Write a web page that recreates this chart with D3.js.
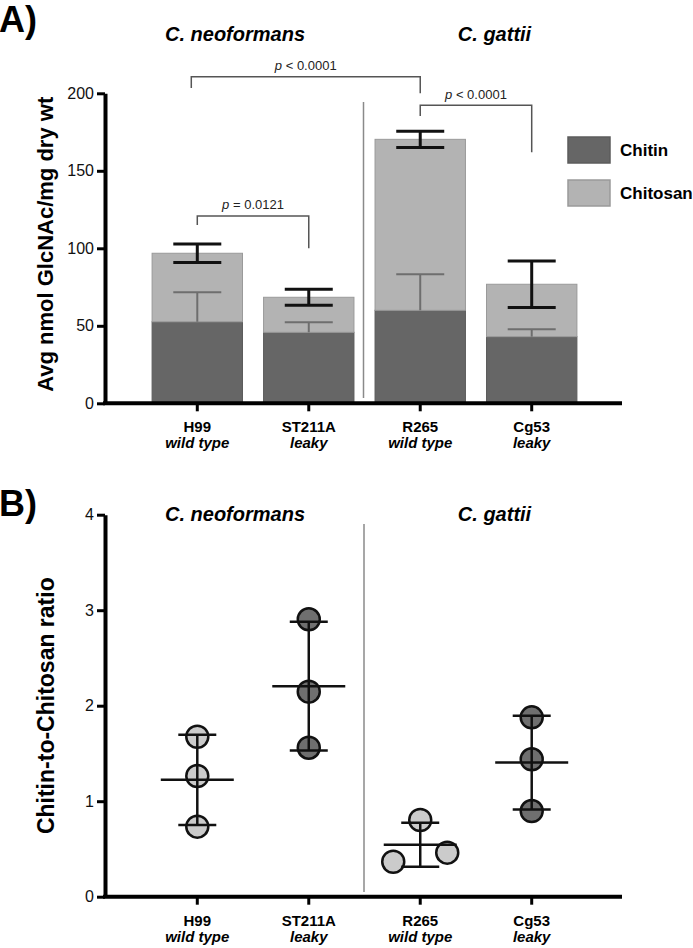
<!DOCTYPE html>
<html>
<head>
<meta charset="utf-8">
<script src="https://cdn.jsdelivr.net/npm/d3@7"></script>
<style>
  html, body { margin: 0; padding: 0; background: #fff; }
  svg { display: block; }
  text { font-family: "Liberation Sans", Arial, Helvetica, sans-serif; }
</style>
</head>
<body>
<div id="chart"></div>
<script>
// ---------------- DATA ----------------
const strains = ["H99", "ST211A", "R265", "Cg53"];
const phenotypes = ["wild type", "leaky", "wild type", "leaky"];
const species = ["C. neoformans", "C. gattii"];

// Panel A: stacked bars (nmol GlcNAc / mg dry wt)
const chitin = [52.6, 45.8, 60.0, 43.0];
const chitinSD = [19.0, 6.5, 23.2, 4.7];
const chitosan = [44.2, 22.6, 110.3, 33.8];
const totalSD = [5.9, 5.2, 5.2, 15.0];
const yTicksA = [0, 50, 100, 150, 200];
const seriesKeys = ["Chitin", "Chitosan"];

// Significance comparisons for panel A
const comparisons = [
  { from: "H99", to: "R265", label: "< 0.0001" },
  { from: "R265", to: "Cg53", label: "< 0.0001" },
  { from: "H99", to: "ST211A", label: "= 0.0121" }
];

// Panel B: chitin-to-chitosan ratio, three replicates per strain
const ratios = [
  [1.675, 1.264, 0.733],
  [2.905, 2.147, 1.560],
  [0.366, 0.803, 0.461],
  [1.878, 1.439, 0.897]
];
const pointShade = ["light", "dark", "light", "dark"];
const yTicksB = [0, 1, 2, 3, 4];

// ---------------- LAYOUT ----------------
const W = 693, H = 948;
const FONT = '"Liberation Sans", Arial, Helvetica, sans-serif';
const svg = d3.select("#chart").append("svg")
  .attr("width", W).attr("height", H)
  .attr("viewBox", `0 0 ${W} ${H}`);

const colors = { Chitin: "#666666", Chitosan: "#b3b3b3" };
const strokeColors = { Chitin: "#5c5c5c", Chitosan: "#9a9a9a" };
const pointFill = { light: "#cbcbcb", dark: "#6f6f6f" };

const axisLeftX = 105;
const axisRightX = 622;

const x = d3.scaleBand().domain(strains).range([107, axisRightX])
  .paddingInner(0.18).paddingOuter(0.4);
const cx = s => x(s) + x.bandwidth() / 2;

// ============ PANEL A ============
const yA = d3.scaleLinear().domain([0, 200]).range([403.3, 93.3]);
const gA = svg.append("g");

svg.append("text").attr("x", -1).attr("y", 32).attr("font-size", 36)
  .attr("font-weight", "bold").attr("fill", "#000").text("A)");
const speciesXA = [235, 494.5];
species.forEach((s, i) => {
  svg.append("text").attr("x", speciesXA[i]).attr("y", 41)
    .attr("text-anchor", "middle").attr("font-size", 20)
    .attr("font-weight", "bold").attr("font-style", "italic").text(s);
});

gA.append("line").attr("x1", 363.5).attr("x2", 363.5)
  .attr("y1", 102).attr("y2", 398).attr("stroke", "#8a8a8a").attr("stroke-width", 1.5);

const tableA = strains.map((s, i) => ({ strain: s, Chitin: chitin[i], Chitosan: chitosan[i] }));
const stacked = d3.stack().keys(seriesKeys)(tableA);

stacked.forEach(layer => {
  gA.append("g").selectAll("rect").data(layer).join("rect")
    .attr("x", d => x(d.data.strain) + 0.5)
    .attr("width", x.bandwidth() - 1)
    .attr("y", d => yA(d[1]))
    .attr("height", d => yA(d[0]) - yA(d[1]))
    .attr("fill", colors[layer.key])
    .attr("stroke", strokeColors[layer.key])
    .attr("stroke-width", 1);
});

const capW = 48;
strains.forEach((s, i) => {
  const top = yA(chitin[i] + chitinSD[i]);
  const base = yA(chitin[i]);
  gA.append("line").attr("x1", cx(s)).attr("x2", cx(s)).attr("y1", base).attr("y2", top)
    .attr("stroke", "#6e6e6e").attr("stroke-width", 2);
  gA.append("line").attr("x1", cx(s) - capW / 2).attr("x2", cx(s) + capW / 2)
    .attr("y1", top).attr("y2", top).attr("stroke", "#6e6e6e").attr("stroke-width", 2);
});

strains.forEach((s, i) => {
  const tot = chitin[i] + chitosan[i];
  const hi = yA(tot + totalSD[i]), lo = yA(tot - totalSD[i]);
  gA.append("line").attr("x1", cx(s)).attr("x2", cx(s)).attr("y1", lo).attr("y2", hi)
    .attr("stroke", "#111").attr("stroke-width", 3);
  [hi, lo].forEach(yy => gA.append("line")
    .attr("x1", cx(s) - capW / 2).attr("x2", cx(s) + capW / 2)
    .attr("y1", yy).attr("y2", yy).attr("stroke", "#111").attr("stroke-width", 3));
});

const axA = gA.append("g").attr("transform", `translate(${axisLeftX},0)`)
  .call(d3.axisLeft(yA).tickValues(yTicksA).tickFormat(d3.format("d"))
    .tickSize(8).tickSizeOuter(0).tickPadding(3));
axA.select(".domain").attr("stroke", "#000").attr("stroke-width", 4);
axA.selectAll(".tick line").attr("stroke", "#000").attr("stroke-width", 3);
axA.selectAll(".tick text").attr("font-size", 16).attr("font-family", FONT).attr("fill", "#111");

const axXA = gA.append("g").attr("transform", `translate(0,${yA(0)})`)
  .call(d3.axisBottom(x).tickSize(8).tickSizeOuter(0).tickFormat(""));
axXA.select(".domain").remove();
axXA.selectAll(".tick line").attr("stroke", "#000").attr("stroke-width", 3);
gA.append("line").attr("x1", axisLeftX - 2).attr("x2", axisRightX)
  .attr("y1", yA(0)).attr("y2", yA(0)).attr("stroke", "#000").attr("stroke-width", 4);

function categoryLabels(g, y0) {
  strains.forEach((s, i) => {
    g.append("text").attr("x", cx(s)).attr("y", y0 + 29).attr("text-anchor", "middle")
      .attr("font-size", 15).attr("font-weight", "bold").text(s);
    g.append("text").attr("x", cx(s)).attr("y", y0 + 45).attr("text-anchor", "middle")
      .attr("font-size", 15).attr("font-weight", "bold").attr("font-style", "italic")
      .text(phenotypes[i]);
  });
}
categoryLabels(gA, yA(0));

gA.append("text")
  .attr("transform", `translate(53,${(yA(0) + yA(200)) / 2 - 4}) rotate(-90)`)
  .attr("text-anchor", "middle").attr("font-size", 22).attr("font-weight", "bold")
  .text("Avg nmol GlcNAc/mg dry wt");

seriesKeys.forEach((k, i) => {
  const ly = 137 + i * 43;
  gA.append("rect").attr("x", 568).attr("y", ly).attr("width", 42).attr("height", 26)
    .attr("fill", colors[k]).attr("stroke", strokeColors[k]).attr("stroke-width", 1.5);
  gA.append("text").attr("x", 620).attr("y", ly + 19).attr("font-size", 17)
    .attr("font-weight", "bold").text(k);
});

const bracketLevels = [
  { top: 210.7, leftEnd: 203.5, rightEnd: 200.0, dxL: -6 },
  { top: 192.3, leftEnd: 185.4, rightEnd: 161.9, dxL: 0 },
  { top: 120.9, leftEnd: 115.1, rightEnd: 100.1, dxL: 0 }
];
comparisons.forEach((c, i) => {
  const L = bracketLevels[i];
  const x1 = cx(c.from) + L.dxL, x2 = cx(c.to);
  const yt = yA(L.top);
  gA.append("path")
    .attr("d", `M${x1},${yA(L.leftEnd)}V${yt}H${x2}V${yA(L.rightEnd)}`)
    .attr("fill", "none").attr("stroke", "#555").attr("stroke-width", 1.5);
  const t = gA.append("text").attr("x", (x1 + x2) / 2).attr("y", yt - 6.5)
    .attr("text-anchor", "middle").attr("font-size", 13).attr("fill", "#222");
  t.append("tspan").attr("font-style", "italic").text("p");
  t.append("tspan").text(" " + c.label);
});

// ============ PANEL B ============
const yB = d3.scaleLinear().domain([0, 4]).range([896.7, 514.7]);
const gB = svg.append("g");

svg.append("text").attr("x", -1).attr("y", 516).attr("font-size", 36)
  .attr("font-weight", "bold").text("B)");
const speciesXB = [235, 494.5];
species.forEach((s, i) => {
  svg.append("text").attr("x", speciesXB[i]).attr("y", 521)
    .attr("text-anchor", "middle").attr("font-size", 20)
    .attr("font-weight", "bold").attr("font-style", "italic").text(s);
});

gB.append("line").attr("x1", 364).attr("x2", 364)
  .attr("y1", 524).attr("y2", 892).attr("stroke", "#8a8a8a").attr("stroke-width", 1.5);

const axB = gB.append("g").attr("transform", `translate(${axisLeftX},0)`)
  .call(d3.axisLeft(yB).tickValues(yTicksB).tickFormat(d3.format("d"))
    .tickSize(8).tickSizeOuter(0).tickPadding(3));
axB.select(".domain").attr("stroke", "#000").attr("stroke-width", 4);
axB.selectAll(".tick line").attr("stroke", "#000").attr("stroke-width", 3);
axB.selectAll(".tick text").attr("font-size", 16).attr("font-family", FONT).attr("fill", "#111");

const axXB = gB.append("g").attr("transform", `translate(0,${yB(0)})`)
  .call(d3.axisBottom(x).tickSize(8).tickSizeOuter(0).tickFormat(""));
axXB.select(".domain").remove();
axXB.selectAll(".tick line").attr("stroke", "#000").attr("stroke-width", 3);
gB.append("line").attr("x1", axisLeftX - 2).attr("x2", axisRightX)
  .attr("y1", yB(0)).attr("y2", yB(0)).attr("stroke", "#000").attr("stroke-width", 4);
categoryLabels(gB, yB(0));

gB.append("text")
  .attr("transform", `translate(54,${(yB(0) + yB(4)) / 2}) rotate(-90)`)
  .attr("text-anchor", "middle").attr("font-size", 23).attr("font-weight", "bold")
  .text("Chitin-to-Chitosan ratio");

const R = 11, spread = 54;
function swarm(vals) {
  const idx = vals.map((v, i) => i).sort((a, b) => vals[a] - vals[b]);
  const off = new Array(vals.length).fill(0);
  let cluster = [idx[0]];
  const flush = () => {
    const n = cluster.length;
    cluster.forEach((k, j) => { off[k] = (j - (n - 1) / 2) * spread; });
  };
  for (let j = 1; j < idx.length; j++) {
    const prev = cluster[cluster.length - 1];
    if (Math.abs(yB(vals[idx[j]]) - yB(vals[prev])) < 2 * R) cluster.push(idx[j]);
    else { flush(); cluster = [idx[j]]; }
  }
  flush();
  return off;
}

strains.forEach((s, i) => {
  const vals = ratios[i];
  const off = swarm(vals);
  gB.append("g").selectAll("circle").data(vals).join("circle")
    .attr("cx", (d, j) => cx(s) + off[j])
    .attr("cy", d => yB(d))
    .attr("r", R)
    .attr("fill", pointFill[pointShade[i]])
    .attr("stroke", "#111").attr("stroke-width", 2.5);

  const m = d3.mean(vals), sd = d3.deviation(vals);
  const lineAttrs = sel => sel.attr("stroke", "#111").attr("stroke-width", 2.5);
  lineAttrs(gB.append("line").attr("x1", cx(s)).attr("x2", cx(s))
    .attr("y1", yB(m - sd)).attr("y2", yB(m + sd)));
  [m - sd, m + sd].forEach(v => lineAttrs(gB.append("line")
    .attr("x1", cx(s) - 19).attr("x2", cx(s) + 19).attr("y1", yB(v)).attr("y2", yB(v))));
  lineAttrs(gB.append("line").attr("x1", cx(s) - 36.5).attr("x2", cx(s) + 36.5)
    .attr("y1", yB(m)).attr("y2", yB(m)));
});
</script>
</body>
</html>
